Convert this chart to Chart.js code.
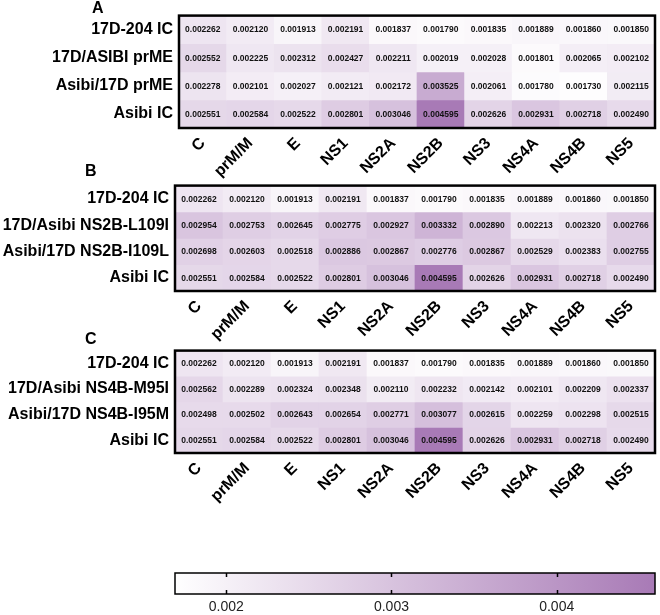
<!DOCTYPE html>
<html>
<head>
<meta charset="utf-8">
<script src="https://cdn.jsdelivr.net/npm/chart.js@4.4.0/dist/chart.umd.min.js"></script>
<style>
  body { margin: 0; background: #fff; width: 660px; height: 615px; position: relative; overflow: hidden;
         font-family: "Liberation Sans", Arial, sans-serif; }
  canvas { position: absolute; left: 0; }
  .tag { position: absolute; font-weight: bold; font-size: 16px; line-height: 16px; color: #000; z-index: 5; }
</style>
</head>
<body>
<canvas id="chartA" width="660" height="185" style="top:0px"></canvas>
<canvas id="chartB" width="660" height="185" style="top:170px"></canvas>
<canvas id="chartC" width="660" height="185" style="top:335px"></canvas>
<canvas id="scaleBar" width="660" height="75" style="top:540px"></canvas>
<div class="tag" style="left:92px;top:0px">A</div>
<div class="tag" style="left:85px;top:163px">B</div>
<div class="tag" style="left:85px;top:331px">C</div>
<script>
// genes along the x axis
const genes = ['C', 'prM/M', 'E', 'NS1', 'NS2A', 'NS2B', 'NS3', 'NS4A', 'NS4B', 'NS5'];

// row labels for each panel
const rowsA = ['17D-204 IC', '17D/ASIBI prME', 'Asibi/17D prME', 'Asibi IC'];
const rowsB = ['17D-204 IC', '17D/Asibi NS2B-L109I', 'Asibi/17D NS2B-I109L', 'Asibi IC'];
const rowsC = ['17D-204 IC', '17D/Asibi NS4B-M95I', 'Asibi/17D NS4B-I95M', 'Asibi IC'];

// values per virus
const ic17D     = [0.002262, 0.002120, 0.001913, 0.002191, 0.001837, 0.001790, 0.001835, 0.001889, 0.001860, 0.001850];
const asibiIC   = [0.002551, 0.002584, 0.002522, 0.002801, 0.003046, 0.004595, 0.002626, 0.002931, 0.002718, 0.002490];
const prME17D   = [0.002552, 0.002225, 0.002312, 0.002427, 0.002211, 0.002019, 0.002028, 0.001801, 0.002065, 0.002102];
const prMEAsibi = [0.002278, 0.002101, 0.002027, 0.002121, 0.002172, 0.003525, 0.002061, 0.001780, 0.001730, 0.002115];
const ns2b17D   = [0.002954, 0.002753, 0.002645, 0.002775, 0.002927, 0.003332, 0.002890, 0.002213, 0.002320, 0.002766];
const ns2bAsibi = [0.002698, 0.002603, 0.002518, 0.002886, 0.002867, 0.002776, 0.002867, 0.002529, 0.002383, 0.002755];
const ns4b17D   = [0.002562, 0.002289, 0.002324, 0.002348, 0.002110, 0.002232, 0.002142, 0.002101, 0.002209, 0.002337];
const ns4bAsibi = [0.002498, 0.002502, 0.002643, 0.002654, 0.002771, 0.003077, 0.002615, 0.002259, 0.002298, 0.002515];

// colour scale
const scaleTicks = [0.002, 0.003, 0.004];
const scaleMin = 0.00169;
const scaleMax = 0.004595;

const FONT = '"Liberation Sans", Arial, sans-serif';
const lowColor = [255, 255, 255];
const highColor = [168, 122, 182];

function shade(v) {
    let t = (v - scaleMin) / (scaleMax - scaleMin);
    t = Math.max(0, Math.min(1, t));
    const c = lowColor.map((l, k) => Math.round(l + (highColor[k] - l) * t));
    return 'rgb(' + c.join(',') + ')';
}

// write the value in each cell
const cellText = {
    id: 'cellText',
    afterDatasetsDraw(chart) {
        const ctx = chart.ctx;
        ctx.save();
        ctx.font = 'bold 8.5px ' + FONT;
        ctx.fillStyle = '#111';
        ctx.textAlign = 'center';
        ctx.textBaseline = 'middle';
        chart.data.datasets.forEach((ds, i) => {
            chart.getDatasetMeta(i).data.forEach((bar, j) => {
                const p = bar.getProps(['x', 'y', 'base'], true);
                ctx.fillText(ds.values[j].toFixed(6), p.x, (p.y + p.base) / 2 + 0.5);
            });
        });
        ctx.restore();
    }
};

// black box round the plot area
const frame = {
    id: 'frame',
    afterDatasetsDraw(chart, args, opts) {
        const a = chart.chartArea;
        const ctx = chart.ctx;
        ctx.save();
        ctx.strokeStyle = '#000';
        ctx.lineWidth = opts.width || 2.5;
        ctx.strokeRect(a.left, a.top, a.right - a.left, a.bottom - a.top);
        ctx.restore();
    }
};

function heatmap(id, rowLabels, rows, padTop, xHeight, yWidth) {
    new Chart(document.getElementById(id), {
        type: 'bar',
        data: {
            labels: genes,
            datasets: rows.map((vals, r) => ({
                data: vals.map(() => [r - 0.5, r + 0.5]),
                values: vals,
                backgroundColor: vals.map(shade),
                barPercentage: 1,
                categoryPercentage: 1,
                borderWidth: 0,
                grouped: false
            }))
        },
        options: {
            responsive: false,
            animation: false,
            devicePixelRatio: 1,
            layout: { padding: { top: padTop, right: 5, left: 0, bottom: 0 } },
            plugins: {
                legend: { display: false },
                tooltip: { enabled: false },
                frame: { width: 2.5 }
            },
            scales: {
                x: {
                    grid: { display: false, drawTicks: false },
                    border: { display: false },
                    ticks: {
                        font: { family: FONT, size: 16, weight: 'bold' },
                        color: '#000',
                        minRotation: 45,
                        maxRotation: 45,
                        autoSkip: false,
                        padding: 6
                    },
                    afterFit: s => { s.height = xHeight; }
                },
                y: {
                    reverse: true,
                    min: -0.5,
                    max: 3.5,
                    grid: { display: false, drawTicks: false },
                    border: { display: false },
                    afterBuildTicks: s => { s.ticks = rowLabels.map((l, i) => ({ value: i })); },
                    ticks: {
                        callback: v => rowLabels[v],
                        font: { family: FONT, size: 16, weight: 'bold' },
                        color: '#000',
                        padding: 6
                    },
                    afterFit: s => { s.width = yWidth; }
                }
            }
        },
        plugins: [cellText, frame]
    });
}

heatmap('chartA', rowsA, [ic17D, prME17D, prMEAsibi, asibiIC], 15, 57, 179);
heatmap('chartB', rowsB, [ic17D, ns2b17D, ns2bAsibi, asibiIC], 12, 64, 175);
heatmap('chartC', rowsC, [ic17D, ns4b17D, ns4bAsibi, asibiIC], 12, 67, 175);

// small marks on the colour bar
const tickMarks = {
    id: 'tickMarks',
    afterDatasetsDraw(chart) {
        const ctx = chart.ctx;
        const a = chart.chartArea;
        const x = chart.scales.x;
        ctx.save();
        ctx.strokeStyle = '#000';
        ctx.lineWidth = 1.5;
        scaleTicks.forEach(v => {
            const px = Math.round(x.getPixelForValue(v)) + 0.5;
            ctx.beginPath();
            ctx.moveTo(px, a.top);
            ctx.lineTo(px, a.top + 4);
            ctx.moveTo(px, a.bottom);
            ctx.lineTo(px, a.bottom - 4);
            ctx.stroke();
        });
        ctx.restore();
    }
};

new Chart(document.getElementById('scaleBar'), {
    type: 'bar',
    data: {
        labels: [''],
        datasets: [{
            data: [[scaleMin, scaleMax]],
            backgroundColor: function(c) {
                const chart = c.chart;
                if (!chart.chartArea) return shade(scaleMax);
                const x = chart.scales.x;
                const g = chart.ctx.createLinearGradient(x.getPixelForValue(scaleMin), 0, x.getPixelForValue(scaleMax), 0);
                g.addColorStop(0, shade(scaleMin));
                g.addColorStop(1, shade(scaleMax));
                return g;
            },
            barPercentage: 1,
            categoryPercentage: 1,
            borderWidth: 0
        }]
    },
    options: {
        indexAxis: 'y',
        responsive: false,
        animation: false,
        devicePixelRatio: 1,
        layout: { padding: { top: 33, left: 175, right: 5, bottom: 0 } },
        plugins: {
            legend: { display: false },
            tooltip: { enabled: false },
            frame: { width: 1.5 }
        },
        scales: {
            x: {
                min: scaleMin,
                max: scaleMax,
                grid: { display: false, drawTicks: false },
                border: { display: false },
                afterBuildTicks: s => { s.ticks = scaleTicks.map(v => ({ value: v })); },
                ticks: {
                    callback: v => v.toFixed(3),
                    font: { family: FONT, size: 14 },
                    color: '#222',
                    padding: 5
                },
                afterFit: s => { s.height = 21; }
            },
            y: { display: false }
        }
    },
    plugins: [frame, tickMarks]
});
</script>
</body>
</html>
